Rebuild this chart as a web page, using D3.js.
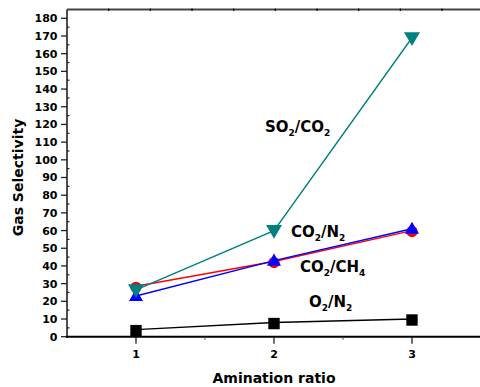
<!doctype html>
<html lang="en">
<head>
<meta charset="utf-8">
<style>
html, body { margin: 0; padding: 0; background: #fff; overflow: hidden; }
svg { display: block; }
text { font-family: "DejaVu Sans", Verdana, sans-serif; font-weight: bold; fill: #000; }
</style>
</head>
<body>
<svg id="chart" width="480" height="387"></svg>
<script src="https://cdn.jsdelivr.net/npm/d3@7"></script>
<script>
// values
const ratios = [1, 2, 3];
const so2co2 = [26.5, 60, 169];
const co2n2 = [28.5, 42.5, 60];
const co2ch4 = [23, 43, 61];
const o2n2 = [4, 8, 10];
const yTicks = d3.range(0, 181, 10);

const svg = d3.select('#chart');
const padLeft = 67, padTop = 9.5, padBottom = 336.7;

const x = d3.scaleLinear().domain([0.5, 3.5]).range([padLeft, 481]);
const y = d3.scaleLinear().domain([0, 180]).range([padBottom, 18.3]);

// frame: top line with its own small ticks
const top2 = d3.scaleLinear().domain([0, 10]).range([padLeft, padLeft + 416.7]);
svg.append('line').attr('x1', padLeft).attr('x2', 480).attr('y1', padTop).attr('y2', padTop)
    .attr('stroke', '#444').attr('stroke-width', 2);
svg.append('g').selectAll('line').data(d3.range(1, 10)).join('line')
    .attr('x1', d => top2(d)).attr('x2', d => top2(d))
    .attr('y1', padTop - 1).attr('y2', padTop + 1.5)
    .attr('stroke', '#000').attr('stroke-width', 1.2);

// y axis
const gy = svg.append('g').attr('transform', `translate(${padLeft},0)`);
gy.append('line').attr('y1', padTop).attr('y2', padBottom + 1).attr('stroke', '#222').attr('stroke-width', 1.6);
gy.selectAll('.major').data(yTicks).join('line').attr('class', 'major')
    .attr('x1', -6).attr('x2', 0).attr('y1', d => y(d)).attr('y2', d => y(d))
    .attr('stroke', '#222').attr('stroke-width', 1.3);
gy.selectAll('.minor').data(d3.range(5, 181, 10)).join('line').attr('class', 'minor')
    .attr('x1', 0).attr('x2', 2.5).attr('y1', d => y(d)).attr('y2', d => y(d))
    .attr('stroke', '#222').attr('stroke-width', 1.2);
gy.selectAll('text').data(yTicks).join('text')
    .attr('x', -9.5).attr('y', d => y(d)).attr('dy', '0.36em')
    .attr('text-anchor', 'end').attr('font-size', 11).text(d => d);

// x axis
const gx = svg.append('g').attr('transform', `translate(0,${padBottom})`);
gx.append('line').attr('x1', padLeft - 1).attr('x2', 480).attr('stroke', '#000').attr('stroke-width', 2);
gx.selectAll('.major').data(ratios).join('line').attr('class', 'major')
    .attr('x1', d => x(d)).attr('x2', d => x(d)).attr('y1', 0).attr('y2', 7)
    .attr('stroke', '#222').attr('stroke-width', 1.3);
gx.selectAll('.minor').data([1.5, 2.5]).join('line').attr('class', 'minor')
    .attr('x1', d => x(d)).attr('x2', d => x(d)).attr('y1', 0).attr('y2', 3)
    .attr('stroke', '#444').attr('stroke-width', 1);
gx.selectAll('text').data(ratios).join('text')
    .attr('x', d => x(d)).attr('y', 21.5)
    .attr('text-anchor', 'middle').attr('font-size', 11).text(d => d);

// axis titles
svg.append('text').attr('x', 274).attr('y', 383).attr('text-anchor', 'middle')
    .attr('font-size', 14).text('Amination ratio');
svg.append('text').attr('transform', 'translate(22.5,177.5) rotate(-90)')
    .attr('text-anchor', 'middle').attr('font-size', 14).text('Gas Selectivity');

// series
const line = d3.line().x((d, i) => x(ratios[i])).y(d => y(d));
const series = [
    { vals: o2n2, color: '#000', shape: d3.symbolSquare, size: 130, rot: 0 },
    { vals: co2n2, color: '#ff0000', shape: d3.symbolCircle, size: 100, rot: 0 },
    { vals: co2ch4, color: '#0000ff', shape: d3.symbolTriangle, size: 85, rot: 0 },
    { vals: so2co2, color: '#008080', shape: d3.symbolTriangle, size: 110, rot: 180 }
];
series.forEach(s => {
    svg.append('path').attr('d', line(s.vals)).attr('fill', 'none')
        .attr('stroke', s.color).attr('stroke-width', 1.4);
    svg.append('g').selectAll('path').data(s.vals).join('path')
        .attr('d', d3.symbol().type(s.shape).size(s.size))
        .attr('transform', (d, i) => `translate(${x(ratios[i])},${y(d) + (s.rot ? -1 : 1)}) rotate(${s.rot})`)
        .attr('fill', s.color);
});

// series labels with subscripts
const labels = [
    { x: 265, y: 132, parts: [['SO', 0], ['2', 1], ['/CO', 0], ['2', 1]] },
    { x: 291, y: 236.7, parts: [['CO', 0], ['2', 1], ['/N', 0], ['2', 1]] },
    { x: 300, y: 271.7, parts: [['CO', 0], ['2', 1], ['/CH', 0], ['4', 1]] },
    { x: 309, y: 306.7, parts: [['O', 0], ['2', 1], ['/N', 0], ['2', 1]] }
];
labels.forEach(l => {
    const t = svg.append('text').attr('x', l.x).attr('y', l.y).attr('font-size', 15);
    l.parts.forEach(([s, sub], i) => {
        t.append('tspan').attr('font-size', sub ? 9 : 15)
            .attr('dy', sub ? 4 : (i === 0 ? 0 : -4)).text(s);
    });
});
</script>
</body>
</html>
